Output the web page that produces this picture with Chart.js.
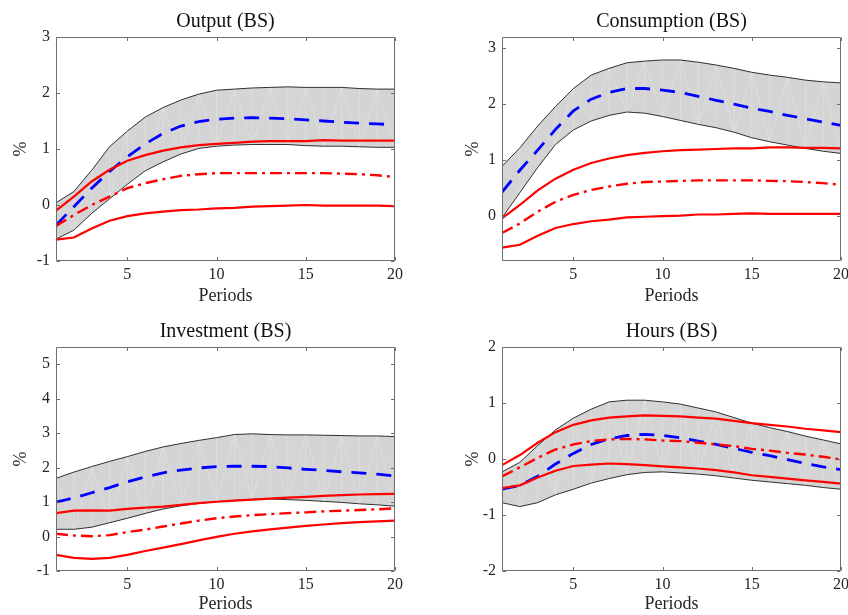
<!DOCTYPE html>
<html>
<head>
<meta charset="utf-8">
<script src="https://cdn.jsdelivr.net/npm/chart.js@4.4.1/dist/chart.umd.min.js"></script>
<style>
  html, body { margin: 0; padding: 0; background: #ffffff; }
  #wrap { position: relative; width: 848px; height: 615px; overflow: hidden; background: #ffffff; }
  #wrap canvas { position: absolute; }
</style>
</head>
<body>
<div id="wrap">
  <canvas id="cOutput" width="424" height="310" style="left:0px;top:0px"></canvas>
  <canvas id="cConsumption" width="424" height="310" style="left:424px;top:0px"></canvas>
  <canvas id="cInvestment" width="424" height="305" style="left:0px;top:310px"></canvas>
  <canvas id="cHours" width="424" height="305" style="left:424px;top:310px"></canvas>
</div>
<script>
// Horizon (periods after the shock) and axis tick values
const periods = [1, 2, 3, 4, 5, 6, 7, 8, 9, 10, 11, 12, 13, 14, 15, 16, 17, 18, 19, 20];
const xTickValues = [5, 10, 15, 20];

// Output (BS)
const outputBandHigh = [0.04, 0.24, 0.62, 1.04, 1.32, 1.57, 1.74, 1.875, 1.98, 2.05, 2.07, 2.09, 2.10, 2.11, 2.10, 2.10, 2.10, 2.08, 2.07, 2.07];
const outputBandLow  = [-0.61, -0.45, -0.15, 0.11, 0.37, 0.61, 0.77, 0.91, 1.01, 1.05, 1.07, 1.08, 1.08, 1.08, 1.06, 1.05, 1.05, 1.04, 1.03, 1.03];
const outputMedian   = [-0.36, -0.03, 0.30, 0.60, 0.86, 1.09, 1.28, 1.41, 1.49, 1.53, 1.55, 1.56, 1.55, 1.54, 1.52, 1.50, 1.48, 1.46, 1.45, 1.43];
const outputRedHigh  = [-0.10, 0.15, 0.42, 0.63, 0.79, 0.89, 0.97, 1.03, 1.07, 1.09, 1.11, 1.13, 1.14, 1.14, 1.14, 1.16, 1.15, 1.15, 1.15, 1.15];
const outputRedMid   = [-0.375, -0.18, 0.0, 0.15, 0.30, 0.39, 0.46, 0.52, 0.55, 0.57, 0.57, 0.57, 0.57, 0.57, 0.57, 0.57, 0.56, 0.55, 0.53, 0.50];
const outputRedLow   = [-0.62, -0.58, -0.42, -0.28, -0.20, -0.15, -0.12, -0.09, -0.08, -0.06, -0.05, -0.03, -0.02, -0.01, 0.0, -0.01, -0.01, -0.01, -0.01, -0.02];
const outputYTicks   = [-1, 0, 1, 2, 3];

// Consumption (BS)
const consBandHigh = [0.89, 1.22, 1.61, 1.96, 2.28, 2.52, 2.64, 2.74, 2.77, 2.79, 2.79, 2.75, 2.70, 2.64, 2.57, 2.52, 2.48, 2.43, 2.40, 2.38];
const consBandLow  = [-0.03, 0.42, 0.87, 1.28, 1.54, 1.70, 1.80, 1.86, 1.84, 1.78, 1.71, 1.64, 1.58, 1.50, 1.40, 1.33, 1.27, 1.21, 1.16, 1.12];
const consMedian   = [0.43, 0.82, 1.18, 1.55, 1.88, 2.09, 2.21, 2.28, 2.28, 2.25, 2.21, 2.14, 2.07, 2.00, 1.93, 1.87, 1.80, 1.74, 1.68, 1.62];
const consRedHigh  = [-0.04, 0.20, 0.46, 0.67, 0.83, 0.95, 1.03, 1.09, 1.13, 1.16, 1.18, 1.19, 1.20, 1.21, 1.21, 1.23, 1.23, 1.22, 1.22, 1.21];
const consRedMid   = [-0.30, -0.13, 0.08, 0.26, 0.38, 0.47, 0.53, 0.58, 0.61, 0.62, 0.63, 0.64, 0.64, 0.64, 0.64, 0.63, 0.625, 0.61, 0.59, 0.56];
const consRedLow   = [-0.56, -0.51, -0.35, -0.21, -0.14, -0.09, -0.06, -0.02, -0.01, 0.0, 0.01, 0.03, 0.03, 0.04, 0.05, 0.04, 0.04, 0.04, 0.04, 0.04];
const consYTicks   = [0, 1, 2, 3];

// Investment (BS)
const invBandHigh = [1.69, 1.87, 2.03, 2.18, 2.32, 2.47, 2.60, 2.70, 2.79, 2.87, 2.96, 2.98, 2.96, 2.95, 2.95, 2.94, 2.93, 2.92, 2.92, 2.90];
const invBandLow  = [0.21, 0.21, 0.27, 0.40, 0.53, 0.67, 0.80, 0.89, 0.96, 1.01, 1.05, 1.08, 1.09, 1.07, 1.05, 1.02, 0.99, 0.95, 0.92, 0.88];
const invMedian   = [1.00, 1.12, 1.27, 1.42, 1.59, 1.73, 1.85, 1.93, 1.99, 2.03, 2.04, 2.04, 2.03, 1.99, 1.95, 1.92, 1.88, 1.85, 1.81, 1.76];
const invRedHigh  = [0.68, 0.75, 0.76, 0.75, 0.80, 0.84, 0.87, 0.92, 0.97, 1.01, 1.04, 1.07, 1.10, 1.13, 1.15, 1.18, 1.20, 1.22, 1.23, 1.24];
const invRedMid   = [0.08, 0.03, 0.01, 0.04, 0.13, 0.20, 0.29, 0.38, 0.46, 0.53, 0.58, 0.62, 0.65, 0.68, 0.70, 0.73, 0.75, 0.77, 0.79, 0.82];
const invRedLow   = [-0.53, -0.62, -0.65, -0.62, -0.53, -0.42, -0.32, -0.22, -0.11, -0.01, 0.08, 0.15, 0.21, 0.26, 0.31, 0.35, 0.39, 0.42, 0.44, 0.46];
const invYTicks   = [-1, 0, 1, 2, 3, 4, 5];

// Hours (BS)
const hoursBandHigh = [-0.23, -0.06, 0.24, 0.52, 0.73, 0.89, 1.02, 1.05, 1.05, 1.02, 0.98, 0.91, 0.84, 0.74, 0.64, 0.56, 0.49, 0.41, 0.34, 0.27];
const hoursBandLow  = [-0.78, -0.85, -0.78, -0.64, -0.54, -0.43, -0.35, -0.28, -0.24, -0.23, -0.25, -0.27, -0.30, -0.34, -0.38, -0.41, -0.44, -0.47, -0.51, -0.54];
const hoursMedian   = [-0.54, -0.47, -0.31, -0.09, 0.10, 0.26, 0.36, 0.42, 0.44, 0.42, 0.38, 0.32, 0.26, 0.19, 0.12, 0.06, -0.01, -0.08, -0.14, -0.19];
const hoursRedHigh  = [-0.11, 0.07, 0.29, 0.48, 0.61, 0.69, 0.74, 0.76, 0.78, 0.77, 0.76, 0.74, 0.72, 0.68, 0.64, 0.61, 0.58, 0.54, 0.51, 0.48];
const hoursRedMid   = [-0.31, -0.15, 0.02, 0.17, 0.26, 0.32, 0.35, 0.36, 0.35, 0.33, 0.32, 0.29, 0.26, 0.23, 0.18, 0.15, 0.11, 0.08, 0.04, -0.01];
const hoursRedLow   = [-0.52, -0.47, -0.33, -0.21, -0.125, -0.10, -0.08, -0.09, -0.11, -0.13, -0.15, -0.17, -0.20, -0.24, -0.29, -0.32, -0.35, -0.38, -0.41, -0.44];
const hoursYTicks   = [-2, -1, 0, 1, 2];

const FONT_FAMILY = "'Liberation Serif', 'Times New Roman', serif";
const TEXT_COLOR = '#262626';
const AXIS_COLOR = '#6e6e6e';

function points(values) {
  return periods.map((p, i) => ({ x: p, y: values[i] }));
}

// Axes box with inward tick marks on all four sides
const boxPlugin = {
  id: 'axesBox',
  afterDatasetsDraw(chart) {
    const { ctx, chartArea: a, scales } = chart;
    const L = Math.round(a.left) + 0.5, R = Math.round(a.right) - 0.5;
    const T = Math.round(a.top) + 0.5, B = Math.round(a.bottom) - 0.5;
    const len = 3.5;
    ctx.save();
    ctx.strokeStyle = AXIS_COLOR;
    ctx.lineWidth = 1;
    ctx.beginPath();
    ctx.rect(L, T, R - L, B - T);
    scales.x.ticks.forEach(t => {
      const px = Math.round(scales.x.getPixelForValue(t.value)) + 0.5;
      ctx.moveTo(px, B); ctx.lineTo(px, B - len);
      ctx.moveTo(px, T); ctx.lineTo(px, T + len);
    });
    scales.y.ticks.forEach(t => {
      const py = Math.round(scales.y.getPixelForValue(t.value)) + 0.5;
      ctx.moveTo(L, py); ctx.lineTo(L + len, py);
      ctx.moveTo(R, py); ctx.lineTo(R - len, py);
    });
    ctx.stroke();
    ctx.restore();
  }
};

// Faint seams across the shaded band, drawn right after the band fill
const seamPlugin = {
  id: 'bandSeams',
  beforeDatasetDraw(chart, args) {
    if (args.index !== 1) return;
    const { ctx, chartArea: a, scales } = chart;
    const hi = chart.data.datasets[0].data, lo = chart.data.datasets[1].data;
    ctx.save();
    ctx.beginPath();
    ctx.rect(a.left, a.top, a.right - a.left, a.bottom - a.top);
    ctx.clip();
    ctx.strokeStyle = 'rgba(255,255,255,0.33)';
    ctx.lineWidth = 0.7;
    ctx.beginPath();
    for (let i = 0; i < hi.length; i++) {
      const x = scales.x.getPixelForValue(hi[i].x);
      ctx.moveTo(x, scales.y.getPixelForValue(hi[i].y));
      ctx.lineTo(x, scales.y.getPixelForValue(lo[i].y));
      if (i < hi.length - 1) {
        const x2 = scales.x.getPixelForValue(hi[i + 1].x);
        if (i % 2 === 0) {
          ctx.moveTo(x, scales.y.getPixelForValue(hi[i].y));
          ctx.lineTo(x2, scales.y.getPixelForValue(lo[i + 1].y));
        } else {
          ctx.moveTo(x, scales.y.getPixelForValue(lo[i].y));
          ctx.lineTo(x2, scales.y.getPixelForValue(hi[i + 1].y));
        }
      }
    }
    ctx.stroke();
    ctx.restore();
  }
};

function makePanel(id, p) {
  const tickFont = { family: FONT_FAMILY, size: 16 };
  const labelFont = { family: FONT_FAMILY, size: 18 };
  const line = (values, color, width, dash, order, extra) => Object.assign({
    data: points(values),
    borderColor: color,
    borderWidth: width,
    borderDash: dash,
    pointRadius: 0,
    tension: 0,
    fill: false,
    order: order
  }, extra || {});

  new Chart(document.getElementById(id), {
    type: 'line',
    data: {
      datasets: [
        line(p.bandHigh, '#000000', 0.8, [], 6, { fill: '+1', backgroundColor: '#d4d4d4' }),
        line(p.bandLow, '#000000', 0.8, [], 7),
        line(p.median, '#0000ff', 2.8, [15, 10], 5),
        line(p.redLow, '#ff0000', 2.2, [], 3),
        line(p.redMid, '#ff0000', 2.4, [12, 5, 3, 5], 2),
        line(p.redHigh, '#ff0000', 2.2, [], 1)
      ]
    },
    options: {
      responsive: false,
      animation: false,
      events: [],
      layout: { padding: { left: 0, right: p.rightPad, top: 0, bottom: 0 } },
      plugins: {
        legend: { display: false },
        tooltip: { enabled: false },
        filler: { drawTime: 'beforeDatasetsDraw' },
        title: {
          display: true,
          fullSize: false,
          text: p.title,
          color: '#111111',
          font: { family: FONT_FAMILY, size: 20, weight: 'normal', lineHeight: '22px' },
          padding: { top: 11, bottom: 4 }
        }
      },
      scales: {
        x: {
          type: 'linear',
          min: 1,
          max: 20,
          grid: { display: false, drawTicks: false },
          border: { display: false },
          ticks: { font: tickFont, color: TEXT_COLOR, padding: 4, maxRotation: 0, autoSkip: false },
          afterBuildTicks: s => { s.ticks = xTickValues.map(v => ({ value: v })); },
          afterFit: s => { s.height = p.xAxisHeight; s.paddingLeft = 0; s.paddingRight = 0; },
          title: { display: true, text: 'Periods', color: TEXT_COLOR, font: labelFont, padding: { top: 0, bottom: p.xTitleBottom } }
        },
        y: {
          type: 'linear',
          min: p.yMin,
          max: p.yMax,
          grid: { display: false, drawTicks: false },
          border: { display: false },
          ticks: { font: tickFont, color: TEXT_COLOR, padding: 6, autoSkip: false },
          afterBuildTicks: s => { s.ticks = p.yTicks.map(v => ({ value: v })); },
          afterFit: s => { s.width = p.yAxisWidth; s.paddingTop = 0; s.paddingBottom = 0; },
          title: { display: true, text: '%', color: TEXT_COLOR, font: labelFont, padding: { top: p.yTitlePad, bottom: 0 } }
        }
      }
    },
    plugins: [seamPlugin, boxPlugin]
  });
}

makePanel('cOutput', {
  title: 'Output (BS)', yMin: -1, yMax: 3, yTicks: outputYTicks,
  bandHigh: outputBandHigh, bandLow: outputBandLow, median: outputMedian,
  redHigh: outputRedHigh, redMid: outputRedMid, redLow: outputRedLow,
  yAxisWidth: 56, rightPad: 29, xAxisHeight: 49, xTitleBottom: 3, yTitlePad: 10
});
makePanel('cConsumption', {
  title: 'Consumption (BS)', yMin: -0.8, yMax: 3.2, yTicks: consYTicks,
  bandHigh: consBandHigh, bandLow: consBandLow, median: consMedian,
  redHigh: consRedHigh, redMid: consRedMid, redLow: consRedLow,
  yAxisWidth: 78, rightPad: 7, xAxisHeight: 49, xTitleBottom: 3, yTitlePad: 38
});
makePanel('cInvestment', {
  title: 'Investment (BS)', yMin: -1, yMax: 5.5, yTicks: invYTicks,
  bandHigh: invBandHigh, bandLow: invBandLow, median: invMedian,
  redHigh: invRedHigh, redMid: invRedMid, redLow: invRedLow,
  yAxisWidth: 56, rightPad: 29, xAxisHeight: 44, xTitleBottom: 0, yTitlePad: 10
});
makePanel('cHours', {
  title: 'Hours (BS)', yMin: -2, yMax: 2, yTicks: hoursYTicks,
  bandHigh: hoursBandHigh, bandLow: hoursBandLow, median: hoursMedian,
  redHigh: hoursRedHigh, redMid: hoursRedMid, redLow: hoursRedLow,
  yAxisWidth: 78, rightPad: 7, xAxisHeight: 44, xTitleBottom: 0, yTitlePad: 38
});
</script>
</body>
</html>
